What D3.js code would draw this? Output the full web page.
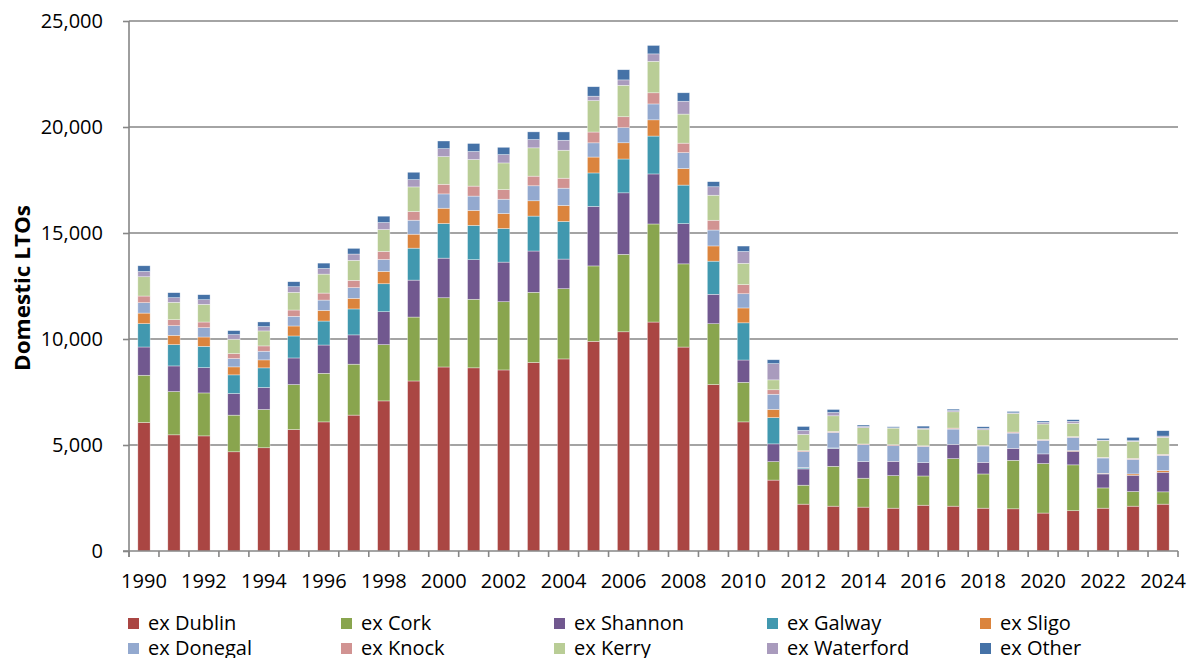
<!DOCTYPE html>
<html>
<head>
<meta charset="utf-8">
<script src="https://cdn.jsdelivr.net/npm/d3@7"></script>
<style>
  html, body { margin: 0; padding: 0; background: #ffffff; }
  svg { display: block; font-family: "Open Sans", "Liberation Sans", sans-serif; }
</style>
</head>
<body>
<svg id="chart" width="1190" height="658"></svg>
<script>
// ---------------- DATA ----------------
const years = d3.range(1990, 2025);
const seriesNames = ["ex Dublin", "ex Cork", "ex Shannon", "ex Galway", "ex Sligo",
                     "ex Donegal", "ex Knock", "ex Kerry", "ex Waterford", "ex Other"];
const seriesColors = ["#AA4643", "#89A54E", "#71588F", "#4198AF", "#DB843D",
                      "#93A9CF", "#D19392", "#B9CD96", "#A99BBD", "#4572A7"];

const exDublin = [6060, 5480, 5430, 4680, 4870, 5730, 6090, 6410, 7080, 8020,
                  8680, 8640, 8540, 8890, 9060, 9890, 10340, 10800, 9620, 7850,
                  6090, 3345, 2210, 2115, 2070, 2020, 2160, 2115, 2020, 1990,
                  1790, 1900, 2020, 2115, 2210];
const exCork = [2230, 2040, 2026, 1728, 1805, 2120, 2292, 2402, 2653, 3015,
                3266, 3234, 3218, 3313, 3312, 3557, 3652, 4626, 3924, 2871,
                1866, 870, 894, 1881, 1364, 1536, 1379, 2241, 1614, 2288,
                2335, 2163, 956, 690, 580];
const exShannon = [1333, 1210, 1193, 1020, 1037, 1256, 1334, 1382, 1554, 1743,
                   1868, 1868, 1869, 1947, 1398, 2807, 2903, 2360, 1898, 1388,
                   1053, 838, 767, 846, 783, 674, 627, 674, 549, 564,
                   455, 642, 658, 768, 925];
const exGalway = [1100, 1005, 1005, 880, 926, 1037, 1131, 1224, 1319, 1507,
                  1633, 1618, 1585, 1648, 1774, 1579, 1595, 1787, 1818, 1563,
                  1754, 1240, 47, 20, 0, 0, 0, 0, 0, 0,
                  0, 0, 0, 0, 0];
const exSligo = [500, 440, 440, 377, 377, 471, 502, 502, 581, 659,
                 722, 706, 707, 722, 754, 750, 766, 765, 781, 718,
                 702, 388, 15, 0, 0, 0, 0, 0, 0, 0,
                 0, 31, 31, 63, 78];
const exDonegal = [490, 455, 440, 393, 408, 455, 487, 503, 565, 660,
                   675, 675, 675, 707, 816, 670, 717, 750, 750, 750,
                   670, 712, 750, 732, 799, 736, 768, 721, 768, 721,
                   642, 627, 722, 689, 721];
const exKnock = [314, 282, 267, 235, 251, 298, 330, 345, 377, 408,
                 455, 471, 455, 455, 471, 510, 511, 526, 447, 462,
                 431, 213, 47, 47, 32, 47, 31, 47, 31, 47,
                 32, 31, 31, 47, 47];
const exKerry = [910, 817, 833, 675, 707, 832, 895, 942, 1036, 1162,
                 1304, 1256, 1256, 1335, 1319, 1483, 1483, 1484, 1371, 1180,
                 1004, 466, 768, 737, 768, 784, 784, 768, 737, 877,
                 736, 627, 783, 799, 799];
const exWaterford = [250, 220, 220, 220, 204, 267, 266, 298, 330, 345,
                     376, 377, 393, 392, 471, 208, 255, 351, 607, 399,
                     559, 767, 188, 156, 62, 16, 47, 62, 62, 32,
                     78, 94, 31, 31, 63];
const exOther = [267, 235, 235, 188, 219, 235, 252, 267, 298, 346,
                 361, 377, 345, 361, 392, 446, 479, 398, 398, 239,
                 255, 182, 188, 141, 63, 47, 94, 63, 79, 62,
                 63, 79, 79, 157, 251];

const yTicks = [0, 5000, 10000, 15000, 20000, 25000];
const xLabelYears = years.filter(y => y % 2 === 0);
const yAxisTitle = "Domestic LTOs";

// ---------------- BUILD ----------------
const seriesValues = [exDublin, exCork, exShannon, exGalway, exSligo,
                      exDonegal, exKnock, exKerry, exWaterford, exOther];
const rows = years.map((yr, i) => {
  const r = { year: yr };
  seriesNames.forEach((n, k) => { r[n] = seriesValues[k][i]; });
  return r;
});

const svg = d3.select("#chart");
svg.append("rect").attr("width", 1190).attr("height", 658).attr("fill", "#fff");

const plotLeft = 129, plotRight = 1178, plotTop = 21, plotBottom = 551;
const axisColor = "#868686";

const x = d3.scaleBand().domain(years).range([plotLeft, plotRight])
  .paddingInner(0.59).paddingOuter(0.295);
const y = d3.scaleLinear().domain([0, 25000]).range([plotBottom, plotTop]);

// gridlines
svg.append("g").selectAll("line")
  .data(yTicks.filter(t => t > 0))
  .join("line")
  .attr("x1", plotLeft).attr("x2", plotRight)
  .attr("y1", d => y(d)).attr("y2", d => y(d))
  .attr("stroke", axisColor).attr("stroke-width", 1.6);

// stacked bars
const stack = d3.stack().keys(seriesNames)(rows);
const color = d3.scaleOrdinal().domain(seriesNames).range(seriesColors);

svg.append("g").selectAll("g")
  .data(stack)
  .join("g")
  .attr("fill", d => color(d.key))
  .selectAll("rect")
  .data(d => d.filter(s => s[1] - s[0] > 0))
  .join("rect")
  .attr("x", d => x(d.data.year))
  .attr("width", x.bandwidth())
  .attr("y", d => y(d[1]))
  .attr("height", d => y(d[0]) - y(d[1]))
  .attr("stroke", "#ffffff")
  .attr("stroke-opacity", 0.6)
  .attr("stroke-width", 0.6);

// y axis
const yAxis = svg.append("g")
  .attr("transform", `translate(${plotLeft},0)`)
  .call(d3.axisLeft(y).tickValues(yTicks).tickFormat(d3.format(",")).tickSize(6).tickPadding(20));
yAxis.select(".domain").remove();
yAxis.selectAll(".tick line").attr("stroke", axisColor).attr("stroke-width", 1.6);
yAxis.selectAll(".tick text").attr("font-size", 20).attr("fill", "#000")
  .attr("font-family", "'Open Sans', sans-serif");
svg.append("line").attr("x1", plotLeft).attr("x2", plotLeft).attr("y1", plotTop).attr("y2", plotBottom + 6)
  .attr("stroke", axisColor).attr("stroke-width", 1.6);

// x axis
svg.append("line").attr("x1", plotLeft - 6).attr("x2", plotRight).attr("y1", plotBottom).attr("y2", plotBottom)
  .attr("stroke", axisColor).attr("stroke-width", 1.6);
const step = x.step();
svg.append("g").selectAll("line")
  .data(d3.range(0, years.length + 1))
  .join("line")
  .attr("x1", i => plotLeft + i * step).attr("x2", i => plotLeft + i * step)
  .attr("y1", plotBottom).attr("y2", plotBottom + 6)
  .attr("stroke", axisColor).attr("stroke-width", 1.6);

const xAxis = svg.append("g")
  .attr("transform", `translate(0,${plotBottom})`)
  .call(d3.axisBottom(x).tickValues(xLabelYears).tickSize(0));
xAxis.select(".domain").remove();
xAxis.selectAll(".tick text")
  .attr("y", 37).attr("dy", 0)
  .attr("font-size", 20).attr("fill", "#000")
  .attr("font-family", "'Open Sans', sans-serif");

// y axis title
svg.append("text")
  .attr("transform", "translate(30,288) rotate(-90)")
  .attr("text-anchor", "middle")
  .attr("font-size", 21)
  .attr("font-weight", "bold")
  .attr("fill", "#000")
  .attr("textLength", 166)
  .attr("lengthAdjust", "spacingAndGlyphs")
  .text(yAxisTitle);

// legend
const legendCols = [128, 341, 554, 767, 980];
const legendRows = [618, 643];
const legend = svg.append("g").selectAll("g")
  .data(seriesNames)
  .join("g")
  .attr("transform", (d, i) => `translate(${legendCols[i % 5]},${legendRows[Math.floor(i / 5)]})`);
legend.append("rect").attr("width", 11).attr("height", 11).attr("fill", d => color(d));
legend.append("text")
  .attr("x", 20).attr("y", 12)
  .attr("font-size", 20).attr("fill", "#000")
  .text(d => d);
</script>
</body>
</html>
